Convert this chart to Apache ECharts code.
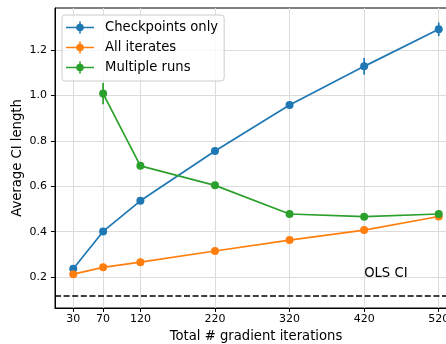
<!DOCTYPE html>
<html>
<head>
<meta charset="utf-8">
<script src="https://cdn.jsdelivr.net/npm/echarts@6/dist/echarts.min.js"></script>
<style>
  html, body { margin: 0; padding: 0; background: #fff; }
  #chart { width: 446px; height: 344px; }
</style>
</head>
<body>
<div id="chart"></div>
<script>
// Total number of gradient iterations at each measured point
const iterations = [30, 70, 120, 220, 320, 420, 520];
const xTicks = [30, 70, 120, 220, 320, 420, 520];
const yTicks = [0.2, 0.4, 0.6, 0.8, 1.0, 1.2];

// Average CI length and its error bar half-width for each method
const checkpointsOnly = [0.237, 0.401, 0.536, 0.755, 0.958, 1.128, 1.291];
const checkpointsErr  = [0.010, 0.010, 0.010, 0.012, 0.014, 0.037, 0.030];
const allIterates     = [0.213, 0.243, 0.266, 0.315, 0.363, 0.407, 0.467];
const allIteratesErr  = [0.006, 0.006, 0.006, 0.008, 0.008, 0.010, 0.010];
const multipleRunsX   = [70, 120, 220, 320, 420, 520];
const multipleRuns    = [1.008, 0.690, 0.604, 0.478, 0.466, 0.478];
const multipleRunsErr = [0.047, 0.012, 0.010, 0.008, 0.008, 0.008];

// Reference OLS confidence interval length
const olsCI = 0.124;
const olsLabel = 'OLS CI';
const olsLabelAt = [420, 0.2];

const names = ['Checkpoints only', 'All iterates', 'Multiple runs'];
const colors = ['#1f77b4', '#ff7f0e', '#2ca02c'];

const FONT = 'DejaVu Sans';

// legend glyph: line + marker + vertical error bar
const icon = 'path://M0 5.2L28 5.2L28 6.8L0 6.8Z M13.2 0L14.8 0L14.8 12L13.2 12Z M10.2 6A3.8 3.8 0 1 1 17.8 6A3.8 3.8 0 1 1 10.2 6Z';

function pairs(xs, ys) { return xs.map((x, i) => [x, ys[i]]); }
function errData(xs, ys, es) { return xs.map((x, i) => [x, ys[i] - es[i], ys[i] + es[i]]); }

function errSeries(name, color, data) {
  return {
    type: 'custom',
    name: name + ' error',
    data: data,
    silent: true,
    renderItem: function (params, api) {
      const p1 = api.coord([api.value(0), api.value(1)]);
      const p2 = api.coord([api.value(0), api.value(2)]);
      return {
        type: 'line',
        shape: { x1: p1[0], y1: p1[1], x2: p2[0], y2: p2[1] },
        style: { stroke: color, lineWidth: 1.7 }
      };
    }
  };
}

function lineSeries(name, color, data) {
  return {
    type: 'line',
    name: name,
    data: data,
    symbol: 'circle',
    symbolSize: 8,
    lineStyle: { color: color, width: 1.7 },
    itemStyle: { color: color },
    animation: false
  };
}

const series = [
  errSeries(names[0], colors[0], errData(iterations, checkpointsOnly, checkpointsErr)),
  lineSeries(names[0], colors[0], pairs(iterations, checkpointsOnly)),
  errSeries(names[1], colors[1], errData(iterations, allIterates, allIteratesErr)),
  lineSeries(names[1], colors[1], pairs(iterations, allIterates)),
  errSeries(names[2], colors[2], errData(multipleRunsX, multipleRuns, multipleRunsErr)),
  lineSeries(names[2], colors[2], pairs(multipleRunsX, multipleRuns)),
  {
    type: 'custom',
    name: 'ols',
    data: [olsLabelAt],
    silent: true,
    renderItem: function (params, api) {
      const p = api.coord([api.value(0), api.value(1)]);
      return {
        type: 'text',
        style: {
          x: p[0], y: p[1] + 3, text: olsLabel,
          fill: '#000', font: '13.2px "' + FONT + '"',
          textAlign: 'left', textVerticalAlign: 'bottom'
        }
      };
    },
    markLine: {
      silent: true,
      symbol: 'none',
      label: { show: false },
      lineStyle: { color: '#000', width: 1.65, type: [6, 2.6] },
      data: [{ yAxis: olsCI }]
    }
  }
];

const chart = echarts.init(document.getElementById('chart'), null, { renderer: 'canvas' });
chart.setOption({
  animation: false,
  backgroundColor: '#fff',
  textStyle: { fontFamily: FONT },
  grid: {
    left: 55, top: 8, right: -11, bottom: 36,
    outerBoundsMode: 'none', containLabel: false,
    show: true, borderColor: '#000', borderWidth: 1, backgroundColor: 'transparent'
  },
  legend: {
    data: names.map(n => ({ name: n, icon: icon })),
    orient: 'vertical',
    left: 62, top: 15,
    itemWidth: 28, itemHeight: 12, itemGap: 7,
    padding: [6, 6, 7, 4],
    backgroundColor: 'rgba(255,255,255,0.8)',
    borderColor: '#cccccc', borderWidth: 1, borderRadius: 3,
    textStyle: { fontFamily: FONT, fontSize: 13.2, color: '#000', padding: [0, 0, 0, 6] }
  },
  xAxis: {
    type: 'value', min: 5.5, max: 544.5,
    name: 'Total # gradient iterations',
    nameLocation: 'middle', nameGap: 22, nameMoveOverlap: false,
    nameTextStyle: { fontFamily: FONT, fontSize: 13.2, color: '#000' },
    axisLine: { lineStyle: { color: '#000', width: 1 } },
    axisTick: { length: 4, customValues: xTicks, lineStyle: { color: '#000' } },
    axisLabel: { customValues: xTicks, margin: 6, fontFamily: FONT, fontSize: 11, color: '#000' },
    splitLine: { show: true, lineStyle: { color: '#dcdcdc', width: 1 } }
  },
  yAxis: {
    type: 'value', min: 0.064, max: 1.385,
    name: 'Average CI length',
    nameLocation: 'middle', nameGap: 31, nameMoveOverlap: false,
    nameTextStyle: { fontFamily: FONT, fontSize: 13.2, color: '#000' },
    axisLine: { show: true, lineStyle: { color: '#000', width: 1 } },
    axisTick: { show: true, length: 4, customValues: yTicks, lineStyle: { color: '#000' } },
    axisLabel: {
      customValues: yTicks, margin: 8, fontFamily: FONT, fontSize: 11, color: '#000',
      formatter: v => v.toFixed(1)
    },
    splitLine: { show: true, lineStyle: { color: '#dcdcdc', width: 1 } }
  },
  series: series
});
</script>
</body>
</html>
